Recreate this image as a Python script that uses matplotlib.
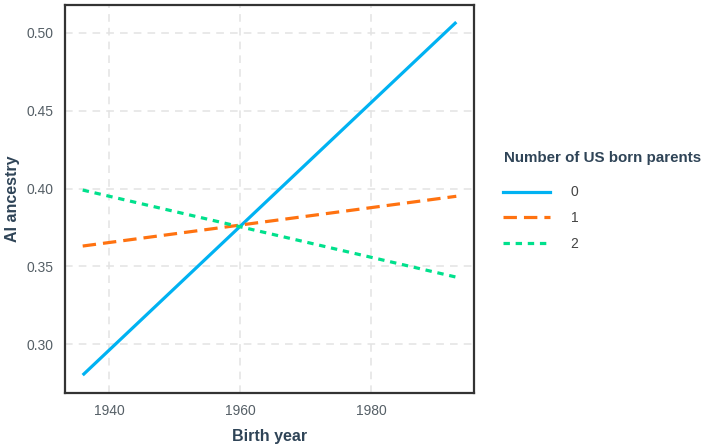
import matplotlib
matplotlib.use("Agg")
import matplotlib.pyplot as plt
from matplotlib.lines import Line2D

birth_years = [1936, 1993]
series_labels = ["0", "1", "2"]
ai_ancestry = {
    "0": [0.280, 0.507],
    "1": [0.363, 0.395],
    "2": [0.399, 0.343],
}
x_ticks = [1940, 1960, 1980]
y_ticks = [0.30, 0.35, 0.40, 0.45, 0.50]

colors = {"0": "#00B2F2", "1": "#FF7210", "2": "#00E08C"}
styles = {"0": "-", "1": (0, (4.2, 2.2)), "2": (0, (2, 1.8))}

plt.rcParams['font.family'] = ['Liberation Sans', 'DejaVu Sans']
fig = plt.figure(figsize=(7.04, 4.46), dpi=100)
ax = fig.add_axes([65/704, 1 - 393/446, (474-65)/704, (393-5)/446])

for s in series_labels:
    ax.plot(birth_years, ai_ancestry[s], color=colors[s], linestyle=styles[s], lw=2.3,
            solid_capstyle='butt', dash_capstyle='butt')

ax.set_xlim(1933.3, 1995.7)
ax.set_ylim(0.2685, 0.518)
ax.set_xticks(x_ticks)
ax.set_yticks(y_ticks)
ax.set_yticklabels([f"{v:.2f}" for v in y_ticks])
ax.grid(True, color="#E3E3E3", linestyle=(0, (5, 4)), lw=1.1)
ax.set_axisbelow(True)
ax.tick_params(length=0, colors="#555F66", labelsize=10, pad=8)
for sp in ax.spines.values():
    sp.set_color("#333333")
    sp.set_linewidth(1.6)
ax.set_xlabel("Birth year", fontsize=11.5, fontweight="bold", color="#2F4457", labelpad=8)
ax.set_ylabel("AI ancestry", fontsize=11.5, fontweight="bold", color="#2F4457", labelpad=5)

fig.text(504/704, 1 - 158/446, "Number of US born parents", fontsize=10.9,
         fontweight="bold", color="#2F4457", ha="left", va="center")

handles = [Line2D([0], [0], color=colors[s], linestyle=styles[s], lw=2.3) for s in series_labels]
leg = fig.legend(handles, series_labels,
                 loc="upper left", bbox_to_anchor=(490/704, 1 - 173/446),
                 frameon=False, fontsize=10, handlelength=3.45, handletextpad=1.45,
                 labelspacing=0.85, labelcolor="#444444")

fig.savefig("out.png", dpi=100, facecolor="white")
